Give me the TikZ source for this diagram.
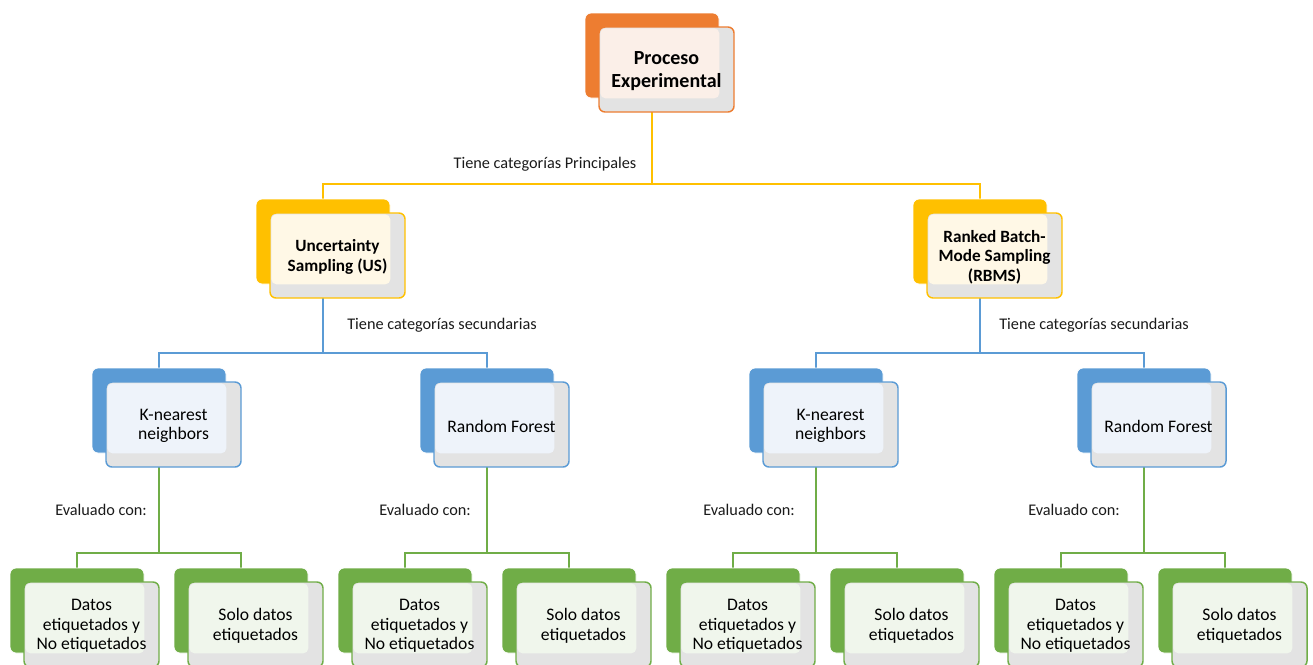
\documentclass[tikz,border=0pt]{standalone}
\usepackage{fontspec}
\setmainfont{Carlito}
\usetikzlibrary{calc}
\pgfdeclarelayer{background}
\pgfsetlayers{background,main}

\definecolor{cOrange}{HTML}{ED7D31}
\definecolor{tOrange}{HTML}{FBEFE8}
\definecolor{cGold}{HTML}{FFC000}
\definecolor{tGold}{HTML}{FFF8E6}
\definecolor{cBlue}{HTML}{5B9BD5}
\definecolor{tBlue}{HTML}{EEF3FA}
\definecolor{cGreen}{HTML}{70AD47}
\definecolor{tGreen}{HTML}{F0F6EC}
\definecolor{cGray}{HTML}{E3E3E3}
\definecolor{lblText}{HTML}{1A1A1A}

\tikzset{
  backbox/.style={rectangle, rounded corners=4.5pt, minimum width=100.5pt,
    minimum height=63.75pt, inner sep=0pt, draw=white, line width=0.6pt},
  frontbox/.style={rectangle, rounded corners=4.5pt, minimum width=101.25pt,
    minimum height=63.75pt, inner sep=0pt, fill=cGray, line width=1.1pt},
  itemtext/.style={align=center, inner sep=0pt, text=black,
    font=\fontsize{13.2pt}{14.6pt}\selectfont},
  headtext/.style={itemtext, font=\fontsize{12.9pt}{14.6pt}\selectfont\bfseries},
  toptext/.style={itemtext, font=\fontsize{15pt}{17.4pt}\selectfont\bfseries},
  link/.style={line width=1.1pt},
  lbl/.style={inner sep=0pt, text=lblText, font=\fontsize{12.2pt}{14pt}\selectfont},
}

% name, x, y (top-left of the coloured back card), colour, tint, text style, text
\newcommand\orgitem[7]{%
  \node[backbox, fill=#4] (#1-b) at ({#2+67},{#3+42.5}) {};
  \node[frontbox, draw=#4] (#1-f) at ({#2+14+67.5},{#3+14+42.5}) {};
  \fill[#5, rounded corners=4pt] ($(#1-f.north west)+(2,2)$) rectangle (#1-b.south east);
  \node[#6] (#1-t) at ($(#1-f.center)+(0,1.5)$) {#7};
}

\begin{document}
\begin{tikzpicture}[x=0.75pt, y=-0.75pt]
\useasboundingbox (0,0) rectangle (1313,664);
\clip (0,0) rectangle (1313,664);

% bar levels
\coordinate (barA) at (0,184);
\coordinate (barB) at (0,353);
\coordinate (barC) at (0,553);

% level 1
\orgitem{top}{585}{13}{cOrange}{tOrange}{toptext}{Proceso\\Experimental}
% level 2
\orgitem{us}{256}{199}{cGold}{tGold}{headtext}{Uncertainty\\Sampling (US)}
\orgitem{rb}{913}{199}{cGold}{tGold}{headtext}{Ranked Batch-\\Mode Sampling\\(RBMS)}
% level 3
\orgitem{kA}{92}{368}{cBlue}{tBlue}{itemtext}{K-nearest\\neighbors}
\orgitem{rA}{420}{368}{cBlue}{tBlue}{itemtext}{Random Forest}
\orgitem{kB}{749}{368}{cBlue}{tBlue}{itemtext}{K-nearest\\neighbors}
\orgitem{rB}{1077}{368}{cBlue}{tBlue}{itemtext}{Random Forest}
% level 4
\orgitem{d1}{10}{568}{cGreen}{tGreen}{itemtext}{Datos\\etiquetados y\\No etiquetados}
\orgitem{s1}{174}{568}{cGreen}{tGreen}{itemtext}{Solo datos\\etiquetados}
\orgitem{d2}{338}{568}{cGreen}{tGreen}{itemtext}{Datos\\etiquetados y\\No etiquetados}
\orgitem{s2}{502}{568}{cGreen}{tGreen}{itemtext}{Solo datos\\etiquetados}
\orgitem{d3}{666}{568}{cGreen}{tGreen}{itemtext}{Datos\\etiquetados y\\No etiquetados}
\orgitem{s3}{830}{568}{cGreen}{tGreen}{itemtext}{Solo datos\\etiquetados}
\orgitem{d4}{994}{568}{cGreen}{tGreen}{itemtext}{Datos\\etiquetados y\\No etiquetados}
\orgitem{s4}{1158}{568}{cGreen}{tGreen}{itemtext}{Solo datos\\etiquetados}

% connector labels
\node[lbl] (l0) at (545,164) {Tiene categorías Principales};
\node[lbl, anchor=west] (l1) at (347,325) {Tiene categorías secundarias};
\node[lbl, anchor=west] (l2) at (999,325) {Tiene categorías secundarias};
\node[lbl, anchor=west] (l3) at (55,510) {Evaluado con:};
\node[lbl, anchor=west] (l4) at (379,510) {Evaluado con:};
\node[lbl, anchor=west] (l5) at (703,510) {Evaluado con:};
\node[lbl, anchor=west] (l6) at (1028,510) {Evaluado con:};

% connectors, behind the cards
\begin{pgfonlayer}{background}
\draw[link, cGold] (top-b.center) -- (top-b.center |- barA) -| (us-b.center);
\draw[link, cGold] (top-b.center |- barA) -| (rb-b.center);

\draw[link, cBlue] (us-b.center) -- (us-b.center |- barB) -| (kA-b.center);
\draw[link, cBlue] (us-b.center |- barB) -| (rA-b.center);
\draw[link, cBlue] (rb-b.center) -- (rb-b.center |- barB) -| (kB-b.center);
\draw[link, cBlue] (rb-b.center |- barB) -| (rB-b.center);

\foreach \p/\a/\b in {kA/d1/s1, rA/d2/s2, kB/d3/s3, rB/d4/s4}{
  \draw[link, cGreen] (\p-b.center) -- (\p-b.center |- barC) -| (\a-b.center);
  \draw[link, cGreen] (\p-b.center |- barC) -| (\b-b.center);
}
\end{pgfonlayer}
\end{tikzpicture}
\end{document}
